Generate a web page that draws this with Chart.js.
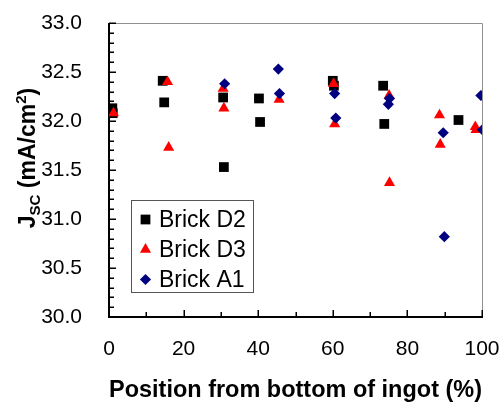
<!DOCTYPE html>
<html>
<head>
<meta charset="utf-8">
<script src="https://cdn.jsdelivr.net/npm/chart.js@4/dist/chart.umd.min.js"></script>
<style>
html,body{margin:0;padding:0;background:#fff;}
canvas{display:block;}
</style>
</head>
<body>
<canvas id="c" width="503" height="404"></canvas>
<script>
// ---- data ----
const seriesNames = ["Brick D2", "Brick D3", "Brick A1"];
const xTickValues = [0, 20, 40, 60, 80, 100];
const yTickValues = [30.0, 30.5, 31.0, 31.5, 32.0, 32.5, 33.0];

const d2X = [0.9, 1.0, 14.4, 14.8, 30.6, 30.8, 40.2, 40.5, 60.0, 60.3, 73.5, 73.8, 93.7];
const d2Y = [32.13, 32.08, 32.41, 32.19, 32.24, 31.53, 32.23, 31.99, 32.41, 32.36, 32.36, 31.97, 32.01];

const d3X = [1.2, 15.7, 16.0, 30.6, 30.8, 45.6, 60.2, 60.5, 75.1, 75.2, 88.6, 88.8, 98.2, 98.4];
const d3Y = [32.08, 32.40, 31.73, 32.33, 32.13, 32.22, 32.38, 31.97, 32.26, 31.37, 32.06, 31.76, 31.94, 31.91];

const a1X = [31.0, 45.4, 45.7, 60.5, 60.8, 75.2, 74.9, 89.6, 89.9, 99.7, 100.1];
const a1Y = [32.38, 32.53, 32.28, 32.28, 32.03, 32.23, 32.17, 31.88, 30.82, 32.26, 31.91];

const toPts = (xs, ys) => xs.map((x, i) => ({x: x, y: ys[i]}));

const styles = [
  {color: "#000000", shape: "rect", r: 6.9},
  {color: "#FF0000", shape: "triangle", r: 6.4},
  {color: "#000080", shape: "rectRot", r: 5.6}
];

const seriesData = [toPts(d2X, d2Y), toPts(d3X, d3Y), toPts(a1X, a1Y)];

const datasets = seriesNames.map((name, i) => ({
  label: name,
  data: seriesData[i],
  showLine: false,
  pointStyle: styles[i].shape,
  pointRadius: styles[i].r,
  pointHoverRadius: styles[i].r,
  pointBackgroundColor: styles[i].color,
  pointBorderColor: styles[i].color,
  pointBorderWidth: 0,
  order: 3 - i
}));

// axis frame + inward tick marks
const framePlugin = {
  id: "frame",
  beforeDatasetsDraw(chart) {
    const ctx = chart.ctx, a = chart.chartArea;
    const xs = chart.scales.x, ys = chart.scales.y;
    ctx.save();
    ctx.strokeStyle = "#909090";
    ctx.lineWidth = 1;
    ctx.beginPath();
    ctx.moveTo(a.left, a.top + 0.5); ctx.lineTo(a.right + 0.5, a.top + 0.5);
    ctx.lineTo(a.right + 0.5, a.bottom);
    ctx.stroke();
    ctx.strokeStyle = "#000";
    ctx.lineWidth = 2;
    ctx.beginPath();
    ctx.moveTo(a.left, a.top); ctx.lineTo(a.left, a.bottom);
    ctx.lineTo(a.right + 1, a.bottom);
    ctx.stroke();
    ctx.lineWidth = 1.5;
    ctx.beginPath();
    for (let k = 0; k <= 30; k++) {
      const v = 30 + k * 0.1;
      const py = Math.round(ys.getPixelForValue(v)) + 0.25;
      const len = (k % 5 === 0) ? 7 : 5;
      ctx.moveTo(a.left, py); ctx.lineTo(a.left + len, py);
    }
    for (let k = 0; k <= 10; k++) {
      const v = k * 10;
      const px = Math.round(xs.getPixelForValue(v)) + 0.25;
      const len = (k % 2 === 0) ? 7 : 5;
      ctx.moveTo(px, a.bottom); ctx.lineTo(px, a.bottom - len);
    }
    ctx.stroke();
    ctx.restore();
  }
};

// legend inside the plot
const legendPlugin = {
  id: "insideLegend",
  afterDatasetsDraw(chart) {
    const ctx = chart.ctx;
    const box = {x: 131.5, y: 200.5, w: 122, h: 92};
    ctx.save();
    ctx.fillStyle = "#fff";
    ctx.fillRect(box.x, box.y, box.w, box.h);
    ctx.strokeStyle = "#555";
    ctx.lineWidth = 1;
    ctx.strokeRect(box.x, box.y, box.w, box.h);
    ctx.font = "23px 'Liberation Sans', Arial, sans-serif";
    ctx.textBaseline = "middle";
    ctx.textAlign = "left";
    chart.data.datasets.forEach((ds, i) => {
      const cy = 219.5 + i * 30;
      ctx.fillStyle = ds.pointBackgroundColor;
      ctx.strokeStyle = ds.pointBackgroundColor;
      Chart.helpers.drawPoint(ctx, {
        pointStyle: ds.pointStyle, radius: ds.pointRadius, rotation: 0,
        borderWidth: 0
      }, 145.5, cy);
      ctx.fillStyle = "#000";
      ctx.fillText(ds.label, 159, cy + 1);
    });
    ctx.restore();
  }
};

// y-axis title with subscript and superscript
const yTitlePlugin = {
  id: "yTitle",
  afterDraw(chart) {
    const ctx = chart.ctx;
    const big = "bold 23px 'Liberation Sans', Arial, sans-serif";
    const small = "bold 15px 'Liberation Sans', Arial, sans-serif";
    const parts = [
      {t: "J", f: big, dy: 0},
      {t: "SC", f: small, dy: 5},
      {t: " (mA/cm", f: big, dy: 0},
      {t: "2", f: small, dy: -9},
      {t: ")", f: big, dy: 0}
    ];
    ctx.save();
    let total = 0;
    parts.forEach(p => { ctx.font = p.f; p.w = ctx.measureText(p.t).width; total += p.w; });
    ctx.translate(35, 158);
    ctx.rotate(-Math.PI / 2);
    ctx.fillStyle = "#000";
    ctx.textBaseline = "alphabetic";
    let x = -total / 2;
    parts.forEach(p => {
      ctx.font = p.f;
      ctx.fillText(p.t, x, p.dy);
      x += p.w;
    });
    ctx.restore();
  }
};

new Chart(document.getElementById("c"), {
  type: "scatter",
  data: {datasets: datasets},
  options: {
    responsive: false,
    animation: false,
    layout: {padding: {left: 0, right: 21, top: 23, bottom: 0}},
    plugins: {legend: {display: false}, tooltip: {enabled: false}},
    scales: {
      x: {
        type: "linear", min: 0, max: 100,
        afterFit(s) { s.height = 87; s.paddingLeft = 0; s.paddingRight = 0; },
        afterBuildTicks(s) { s.ticks = xTickValues.map(v => ({value: v})); },
        grid: {display: false, drawTicks: false},
        border: {display: false},
        ticks: {padding: 20, color: "#000", font: {size: 21, family: "'Liberation Sans', Arial, sans-serif"}, maxRotation: 0},
        title: {display: true, text: "Position from bottom of ingot (%)", color: "#000",
                padding: {top: 0, bottom: 2},
                font: {size: 23.5, weight: "bold", lineHeight: 1, family: "'Liberation Sans', Arial, sans-serif"}}
      },
      y: {
        type: "linear", min: 30, max: 33,
        afterFit(s) { s.width = 109; s.paddingTop = 0; s.paddingBottom = 0; },
        afterBuildTicks(s) { s.ticks = yTickValues.map(v => ({value: v})); },
        grid: {display: false, drawTicks: false},
        border: {display: false},
        ticks: {padding: 27, color: "#000", font: {size: 21, family: "'Liberation Sans', Arial, sans-serif"},
                callback: v => Number(v).toFixed(1)}
      }
    }
  },
  plugins: [framePlugin, legendPlugin, yTitlePlugin]
});
</script>
</body>
</html>
